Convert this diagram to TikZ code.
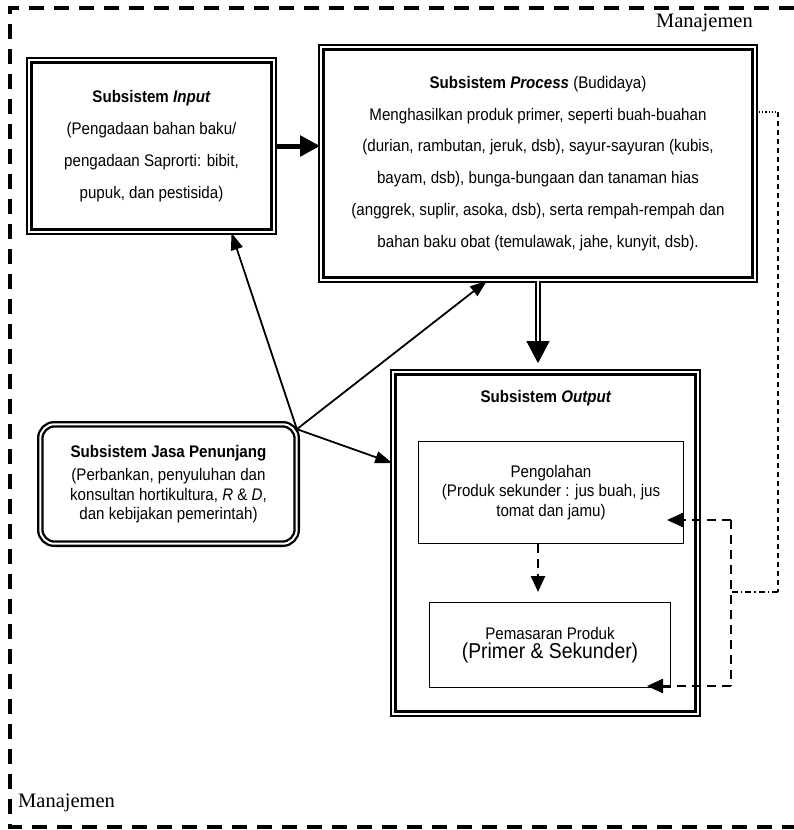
\documentclass[tikz,border=0pt]{standalone}
\usepackage{fontspec}
\usepackage{tikz}
\usetikzlibrary{arrows.meta,calc}
\newfontfamily\boxfont{Liberation Sans}[FakeStretch=0.9]
\newfontfamily\mgtfont{Liberation Serif}
\def\wide{\fontsize{16.8}{31.8}\selectfont}
\def\tight{\fontsize{16.8}{19.5}\selectfont}

\begin{document}
\begin{tikzpicture}[x=1pt,y=-1pt,
every node/.style={align=center,font=\boxfont\wide},
dbox/.style={draw,line width=2.3pt,double,double distance=2pt,inner sep=0pt},
sbox/.style={draw,line width=1.4pt,inner sep=0pt},
link/.style={line width=1.8pt,-{Triangle[length=17pt,width=12pt]}},
fback/.style={line width=2.4pt,dash pattern=on 9pt off 6pt,-{Triangle[length=16pt,width=14pt]}},
mgt/.style={font=\mgtfont\fontsize{20.5}{24}\selectfont,inner sep=0pt}
]
\useasboundingbox (0,0) rectangle (794,830);
\draw[line width=3.5pt,dash pattern=on 15pt off 10pt] (794,8) -- (10,8) -- (10,827) -- (794,827);
\node[mgt,anchor=base east] (mgtop) at (753,27) {Manajemen};
\node[mgt,anchor=base west] (mgbot) at (18,807) {Manajemen};

\node[dbox,minimum width=244.4,minimum height=171.4] (in) at (151.5,146)
{\textbf{Subsistem \textit{Input}}\\(Pengadaan bahan baku/\\pengadaan Saprorti: bibit,\\pupuk, dan pestisida)};
\node[dbox,minimum width=433.4,minimum height=232.4] (pp) at (538,163.5)
{\textbf{Subsistem \textit{Process}} (Budidaya)\\Menghasilkan produk primer, seperti buah-buahan\\(durian, rambutan, jeruk, dsb), sayur-sayuran (kubis,\\bayam, dsb), bunga-bungaan dan tanaman hias\\(anggrek, suplir, asoka, dsb), serta rempah-rempah dan\\bahan baku obat (temulawak, jahe, kunyit, dsb).};
\node[dbox,minimum width=304.4,minimum height=341.4] (out) at (545.5,543) {};
\node (outlbl) at (546,398) {\textbf{Subsistem \textit{Output}}};
\node[sbox,minimum width=264.6,minimum height=101.6,font=\boxfont\tight] (peng) at (551,492.5)
{Pengolahan\\(Produk sekunder : jus buah, jus\\tomat dan jamu)};
\node[sbox,minimum width=240.6,minimum height=84.6,font=\boxfont\tight] (pem) at (550,645)
{Pemasaran Produk\\\fontsize{21.5}{25}\selectfont(Primer \& Sekunder)};
\node[dbox,rounded corners=14pt,minimum width=256.4,minimum height=119.4,font=\boxfont\tight] (jasa) at (168.5,484)
{\textbf{Subsistem Jasa Penunjang}\\[4pt](Perbankan, penyuluhan dan\\konsultan hortikultura, \textit{R} \& \textit{D},\\dan kebijakan pemerintah)};

\draw[line width=5pt,-{Triangle[length=20pt,width=20pt]}] (in.east) -- (in.east -| pp.west);
\coordinate (ppin) at ($(pp.south |- out.north)+(0,-8)$);
\draw[line width=2pt,double,double distance=2.2pt,shorten >=20pt] (pp.south) -- (ppin);
\draw[line width=1pt,-{Triangle[length=22pt,width=23pt]}] (ppin) ++(0,-22) -- (ppin);

\coordinate (hub) at ($(jasa.north east)+(-1,6)$);
\draw[link] (hub) -- ($(in.south)+(80,0)$);
\draw[link] (hub) -- ($(pp.south)+(-51,0)$);
\draw[link] (hub) -- ($(out.west)+(0,-80)$);

\draw[fback] ($(peng.south)+(-13,0)$) -- ($(pem.north)+(-12,-10)$);
\coordinate (fb1) at (731,520);
\coordinate (fb2) at (731,686);
\draw[line width=2.4pt,dash pattern=on 9pt off 6pt] (fb1) -- (fb2);
\draw[fback] (fb1) -- ($(fb1 -| peng.east)+(-17,0)$);
\draw[fback] (fb2) -- ($(fb2 -| pem.east)+(-24,0)$);

% management link
\coordinate (mg1) at (778,112);
\coordinate (mg2) at (778,592);
\coordinate (mg3) at (731,592);
\draw[line width=1.2pt,dotted] (pp.east |- mg1) -- (mg1);
\draw[line width=1.2pt,dash pattern=on 5pt off 4pt] (mg1) -- (mg2);
\draw[line width=1.2pt,dash pattern=on 6pt off 3pt on 1.5pt off 3pt] (mg2) -- (mg3);
\end{tikzpicture}
\end{document}
